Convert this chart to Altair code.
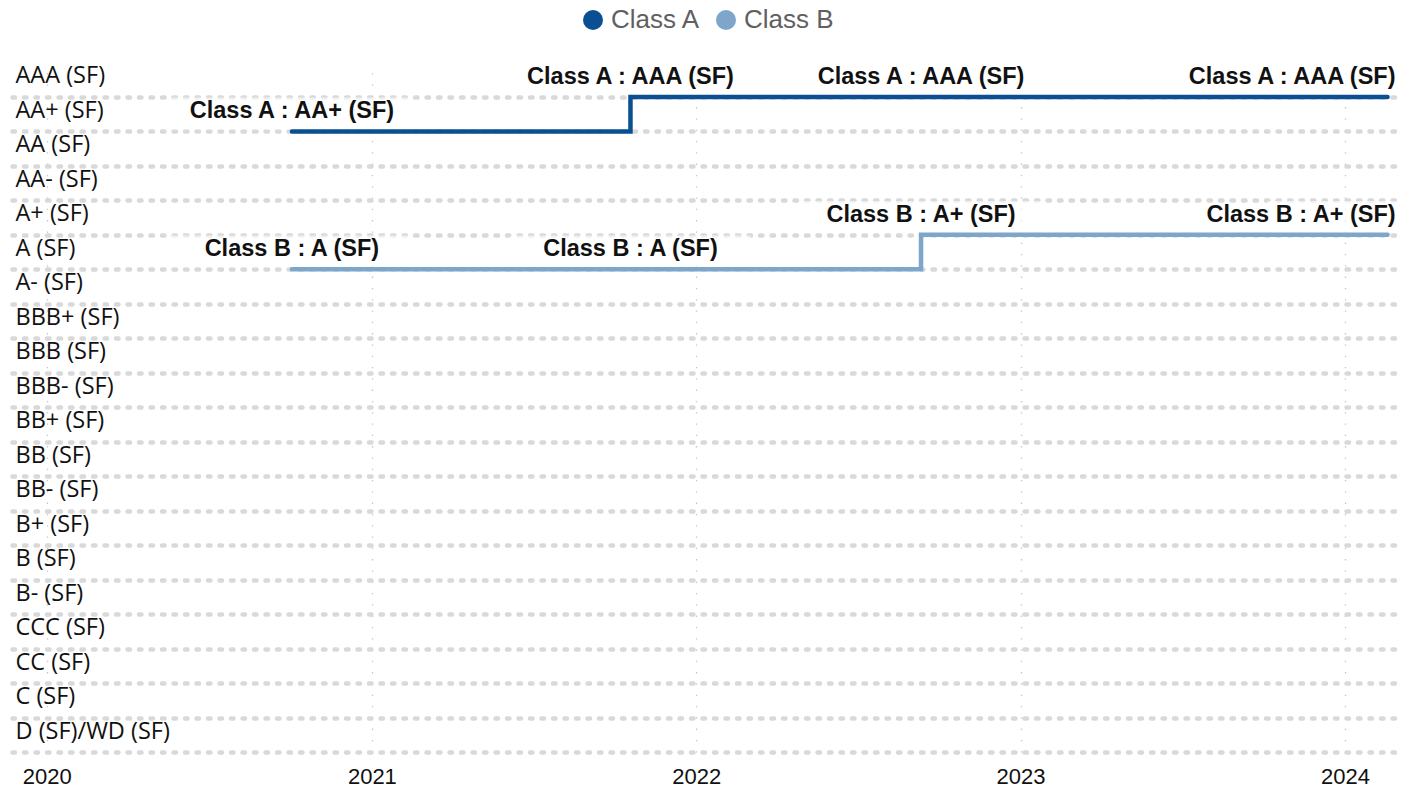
import altair as alt
import pandas as pd

ratings = ["AAA (SF)", "AA+ (SF)", "AA (SF)", "AA- (SF)", "A+ (SF)", "A (SF)", "A- (SF)",
           "BBB+ (SF)", "BBB (SF)", "BBB- (SF)", "BB+ (SF)", "BB (SF)", "BB- (SF)",
           "B+ (SF)", "B (SF)", "B- (SF)", "CCC (SF)", "CC (SF)", "C (SF)", "D (SF)/WD (SF)"]
dates = ["2020-10-03", "2021-10-19", "2022-09-11", "2024-02-18"]
class_a = ["AA+ (SF)", "AAA (SF)", "AAA (SF)", "AAA (SF)"]
class_b = ["A (SF)", "A (SF)", "A+ (SF)", "A+ (SF)"]
series = ["Class A", "Class B"]
colors = ["#0b4f93", "#7da6ca"]
x_domain = ["2019-11-23", "2024-03-03"]

rows = []
for name, vals in zip(series, [class_a, class_b]):
    for i, (d, r) in enumerate(zip(dates, vals)):
        rows.append({"date": d, "series": name, "rating": r,
                     "idx": ratings.index(r),
                     "label": f"{name} : {r}",
                     "last": i == len(dates) - 1})
df = pd.DataFrame(rows)

label_expr = "[" + ",".join(f"'{r}'" for r in ratings) + "][datum.value]"

x_enc = alt.X("date:T", scale=alt.Scale(domain=x_domain, nice=False),
              axis=alt.Axis(title=None, format="%Y", tickCount="year", domain=False, ticks=False,
                            labelFont="Liberation Sans", labelFontSize=22, labelColor="#111",
                            labelPadding=14, grid=True, gridColor="#c4c4c4", gridWidth=1.3,
                            gridDash=[1.3, 10], labelFlush=False, labelOverlap=False))
y_enc = alt.Y("idx:Q", scale=alt.Scale(domain=[-0.84, 19], reverse=True, nice=False, zero=False),
              axis=alt.Axis(title=None, values=list(range(len(ratings))), labelExpr=label_expr,
                            domain=False, ticks=False, labelAlign="left", labelBaseline="middle",
                            labelPadding=-3, labelOffset=-21, labelFont="Open Sans",
                            labelFontSize=23.5, labelColor="#111", grid=True, gridColor="#d9d9d9",
                            gridWidth=4.5, gridDash=[2.5, 9], gridCap="round",
                            labelOverlap=False, labelBound=False, labelFlush=False))

color_enc = alt.Color("series:N", scale=alt.Scale(domain=series, range=colors),
                      legend=alt.Legend(title=None, orient="none", direction="horizontal",
                                        legendX=568, legendY=-61, symbolType="circle",
                                        symbolSize=400, symbolStrokeWidth=0,
                                        labelFont="Liberation Sans", labelFontSize=26,
                                        labelColor="#606060", labelOffset=5, columnPadding=12))

base = alt.Chart(df)

dots = base.mark_circle(size=0, opacity=1).encode(x=x_enc, y=y_enc, color=color_enc)

lines = base.mark_line(interpolate="step-after", strokeWidth=4.5, strokeCap="round",
                       strokeJoin="miter").encode(x=x_enc, y=y_enc, color=color_enc)

halo = base.mark_point(shape="M-1,-0.133L1,-0.133L1,0.133L-1,0.133Z", filled=True,
                       color="white", opacity=0.6, size=57600, yOffset=-18).encode(
    x=x_enc, y=y_enc)

text_mid = base.transform_filter("!datum.last").mark_text(
    font="Liberation Sans", fontWeight="bold", fontSize=23.5, color="#111",
    align="center", baseline="middle", dy=-20).encode(x=x_enc, y=y_enc, text="label:N")
text_end = base.transform_filter("datum.last").mark_text(
    font="Liberation Sans", fontWeight="bold", fontSize=23.5, color="#111",
    align="right", baseline="middle", dy=-20, dx=8).encode(x=x_enc, y=y_enc, text="label:N")

chart = alt.layer(dots, halo, lines, text_mid, text_end).properties(
    width=1388, height=684,
    autosize=alt.AutoSizeParams(type="none"),
    padding={"left": 4, "top": 60, "right": 0, "bottom": 40},
).configure_view(stroke=None)

chart.save("out.html", embed_options={"renderer": "svg", "actions": False})
